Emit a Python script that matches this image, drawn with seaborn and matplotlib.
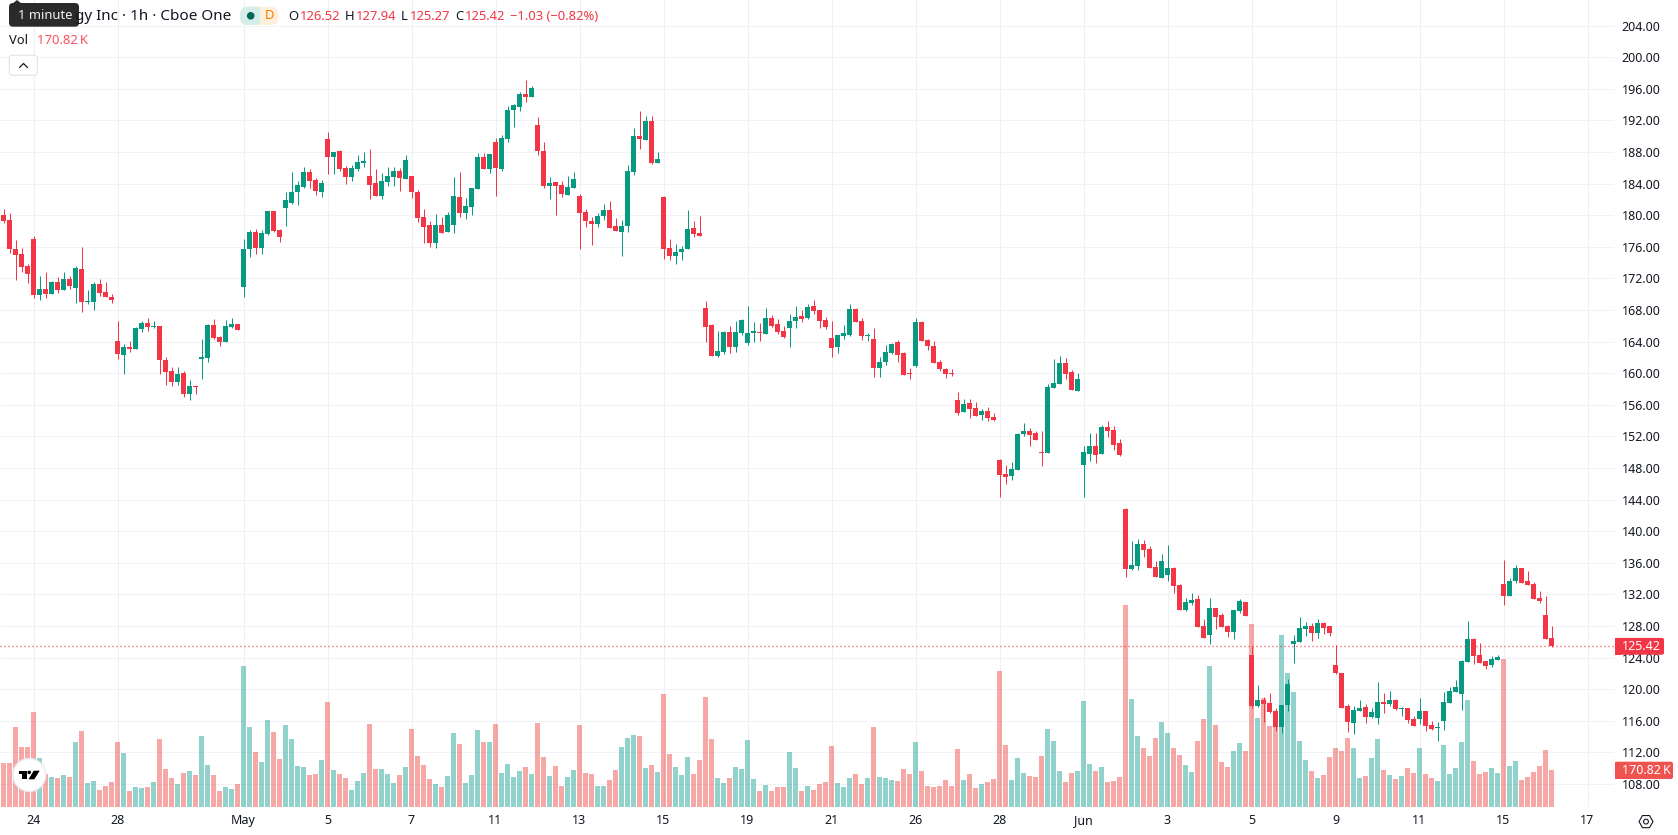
import matplotlib
matplotlib.use("Agg")
import matplotlib.pyplot as plt
from matplotlib.patches import Circle, FancyBboxPatch, Polygon, Rectangle, RegularPolygon
import numpy as np
import pandas as pd
import seaborn as sns

# Hourly OHLC bars
opens = [
    179.97,179.33,175.66,175.03,173.51,176.93,169.84,170.60,169.97,171.49,
    170.47,171.87,170.73,173.13,168.95,168.95,171.23,170.22,169.59,164.02,
    162.24,163.26,163.00,165.54,166.30,165.79,165.92,161.61,160.22,158.83,
    159.97,157.31,158.32,161.74,161.86,166.04,164.52,163.89,165.79,166.17,
    170.85,175.66,177.81,175.79,177.56,180.47,178.07,180.85,181.49,182.88,
    183.51,185.41,184.40,182.88,189.59,187.31,188.07,185.92,184.78,185.79,
    186.55,184.90,184.02,182.37,184.14,184.78,185.54,184.52,184.90,182.88,
    179.71,178.70,176.42,178.70,177.81,178.70,182.24,180.22,180.98,183.26,
    187.31,185.79,189.21,185.79,189.59,193.26,193.64,195.28,194.90,191.36,
    188.07,183.64,184.14,183.76,182.50,183.38,182.37,180.35,179.21,178.83,
    179.84,180.60,178.57,177.81,178.57,185.41,189.97,189.46,191.86,186.55,
    182.24,175.79,174.78,175.28,175.66,178.32,177.69,168.30,166.14,162.22,
    162.73,165.26,163.36,165.13,163.86,165.13,165.26,165.00,167.03,166.27,
    165.38,165.76,166.65,167.28,167.03,168.55,168.04,166.78,164.50,163.36,
    164.75,164.88,168.17,166.65,164.75,164.37,160.70,161.46,162.60,163.99,
    162.60,160.07,160.95,166.52,164.24,163.49,161.46,160.57,160.07,156.65,
    155.13,156.27,155.64,154.75,155.26,154.50,149.05,147.28,147.03,147.79,
    152.35,152.73,152.47,150.07,149.94,158.17,158.68,161.33,160.19,157.79,
    148.42,149.81,150.83,149.81,153.23,152.85,151.21,142.83,135.23,135.61,
    138.40,137.76,135.49,134.09,134.47,135.36,133.21,130.04,130.93,131.43,
    128.02,126.88,130.30,129.41,128.02,127.26,129.92,131.05,124.35,117.89,
    118.65,118.27,117.26,115.23,118.02,125.74,125.99,127.64,128.02,127.13,
    128.40,128.02,123.08,122.07,117.89,115.74,117.26,117.76,116.50,116.37,
    118.40,118.14,118.65,117.51,117.64,116.21,116.21,117.22,115.45,115.07,
    115.96,118.24,119.63,119.38,123.43,126.34,124.31,123.55,123.05,123.68,
    133.30,131.78,133.68,135.32,133.68,133.30,131.53,129.38,126.52,
]
closes = [
    179.21,175.66,174.90,173.38,172.50,169.84,170.60,169.97,171.49,170.47,
    171.87,170.98,173.26,168.95,169.08,171.23,170.09,169.59,169.21,162.37,
    163.26,163.00,165.66,166.30,165.79,165.92,161.61,160.09,158.83,159.84,
    157.31,158.32,158.19,161.99,166.04,164.40,163.89,165.92,166.17,165.41,
    175.66,177.81,175.79,177.69,180.47,177.94,177.18,181.86,182.88,183.76,
    185.41,184.27,183.00,184.02,187.31,187.94,185.79,184.78,185.92,186.68,
    186.80,183.76,182.37,184.27,184.90,185.54,184.65,186.93,182.88,179.59,
    178.45,176.42,178.70,177.69,179.97,182.37,180.22,181.11,183.38,187.31,
    185.79,187.69,185.92,189.71,193.26,193.89,195.28,194.90,196.04,188.07,
    183.64,184.02,183.64,182.62,183.51,184.52,180.22,179.21,178.83,179.84,
    180.60,178.32,177.94,178.57,185.54,189.97,189.59,191.86,186.55,187.05,
    175.66,174.78,175.28,175.66,178.19,177.56,177.31,165.89,162.22,162.85,
    165.26,163.36,165.26,166.78,165.13,165.38,165.13,167.03,166.02,165.26,
    164.62,166.65,167.16,166.90,168.42,167.92,166.65,165.89,163.23,164.88,
    165.13,168.17,166.52,164.75,164.88,160.70,161.46,162.73,163.74,162.35,
    159.81,159.94,166.52,164.12,163.49,161.33,160.57,159.94,159.94,155.00,
    156.14,155.51,154.62,155.26,154.37,154.12,147.16,146.90,147.92,152.35,
    152.73,152.22,151.59,149.94,158.30,158.80,161.33,159.94,157.92,159.31,
    150.07,150.83,149.69,153.23,152.73,150.95,149.69,135.23,135.74,138.40,
    137.64,135.36,134.22,136.24,135.36,133.08,130.04,131.05,131.31,127.89,
    126.50,130.30,129.16,127.89,127.26,130.04,131.18,129.28,117.89,118.65,
    118.14,117.13,115.23,118.02,120.68,126.12,127.76,128.02,127.13,128.40,
    127.76,127.13,122.07,117.64,115.86,117.38,117.64,116.50,117.13,118.40,
    118.14,118.65,117.51,117.64,116.08,115.32,117.22,115.32,114.95,115.20,
    118.36,119.75,120.26,123.55,126.34,124.19,123.30,122.92,123.81,124.06,
    131.78,133.68,135.32,133.43,133.17,131.40,131.15,126.34,125.42,
]
highs = [
    180.73,180.22,176.80,175.79,173.76,177.31,172.24,172.75,171.61,172.12,
    172.75,172.24,173.51,175.92,170.47,171.49,171.87,171.49,169.97,166.55,
    163.64,164.02,165.79,166.55,166.93,166.55,165.92,161.99,160.73,160.73,
    160.22,159.08,158.32,164.27,166.17,166.80,164.65,166.67,166.93,166.17,
    176.93,178.07,178.19,178.07,180.47,180.47,178.19,182.88,185.41,184.27,
    186.04,185.79,184.65,184.40,190.47,187.94,188.19,186.17,186.30,187.56,
    187.94,188.32,185.79,185.28,186.04,186.04,185.92,187.56,184.90,183.13,
    180.73,179.21,180.09,179.71,180.35,184.78,185.41,182.12,183.38,187.81,
    187.81,187.69,189.71,190.09,193.76,194.02,195.54,197.05,196.30,192.37,
    189.21,184.78,184.14,184.27,184.90,185.41,182.62,180.73,179.71,180.22,
    181.36,181.74,179.59,179.33,186.30,190.98,193.13,192.50,192.50,187.94,
    182.37,176.93,176.30,176.04,180.60,179.21,179.84,169.18,166.27,165.38,
    165.38,166.02,166.65,166.90,168.55,166.52,166.40,168.30,167.41,166.90,
    166.02,167.54,168.55,168.04,168.80,169.31,168.04,167.16,166.65,164.88,
    166.14,168.80,168.30,167.03,165.13,165.76,162.09,163.61,163.86,164.24,
    162.73,160.70,167.03,166.65,164.37,164.12,161.71,160.70,160.57,157.66,
    156.78,156.78,156.40,155.51,155.76,155.00,149.18,148.42,148.80,152.47,
    153.74,153.11,152.73,152.73,158.68,161.84,162.22,161.97,160.45,160.07,
    150.83,152.47,152.47,153.49,153.99,153.36,151.71,142.95,138.78,139.03,
    138.90,138.14,136.24,137.13,138.27,135.49,133.33,131.56,132.19,131.94,
    128.90,131.56,130.30,129.66,128.14,130.04,131.43,131.05,125.49,120.55,
    119.03,119.54,117.64,118.02,121.31,126.88,129.16,128.52,128.40,128.90,
    128.52,128.02,125.61,122.07,118.14,117.89,118.65,118.14,117.64,120.93,
    119.54,119.79,118.78,117.76,117.64,116.59,118.87,117.22,115.96,115.83,
    119.63,120.26,121.15,123.68,128.62,126.46,125.83,123.55,124.19,124.31,
    136.34,134.06,135.70,135.32,134.95,133.55,132.41,131.78,127.94,
]
lows = [
    178.95,175.16,171.74,172.75,171.36,169.46,169.21,169.46,169.97,170.09,
    170.47,170.60,168.83,167.69,168.70,167.94,169.71,169.59,168.83,161.74,
    159.84,162.62,163.00,165.16,165.28,165.66,159.84,158.45,158.32,158.45,
    156.93,156.55,157.31,159.21,161.36,164.27,163.38,163.89,165.66,165.41,
    169.59,174.65,175.03,175.03,177.43,177.81,176.55,178.57,181.36,181.23,
    183.38,183.38,182.50,182.24,185.16,185.16,185.54,183.89,184.27,185.54,
    186.04,181.99,182.37,181.99,183.64,183.64,183.00,184.52,182.12,179.08,
    176.42,175.92,175.79,177.69,177.81,177.69,179.71,179.46,179.97,183.26,
    185.79,185.28,182.37,185.54,189.21,191.11,193.13,194.27,194.90,187.56,
    183.38,181.99,179.97,182.24,182.50,183.38,175.66,178.45,176.17,178.45,
    179.33,178.32,177.94,174.78,177.81,185.03,188.32,189.46,186.42,186.55,
    174.40,174.27,173.76,174.27,175.66,177.18,177.31,163.99,162.22,162.09,
    162.47,162.60,162.73,164.88,163.61,163.99,164.12,165.00,165.89,165.00,
    164.50,163.36,165.76,166.52,166.90,167.54,165.76,165.64,162.09,162.60,
    164.37,164.75,166.52,164.24,164.12,159.56,159.56,161.08,162.47,161.46,
    159.81,159.31,160.83,164.12,162.98,161.33,160.32,159.43,159.69,154.75,
    155.13,154.37,154.62,154.12,153.99,153.99,144.37,146.02,146.52,147.79,
    152.09,150.83,151.59,148.30,149.94,158.17,158.68,159.31,157.92,157.79,
    144.37,148.93,148.67,149.81,151.97,150.32,149.56,134.22,135.11,135.11,
    136.75,135.36,134.22,134.09,133.71,132.19,130.04,129.92,130.68,127.89,
    126.50,125.74,127.64,127.89,126.62,126.37,129.66,129.28,117.64,117.76,
    115.86,117.00,114.73,114.47,117.26,123.33,125.99,126.75,126.12,126.50,
    127.00,126.75,121.94,117.64,114.60,114.35,117.26,115.74,116.37,115.61,
    117.00,117.89,117.38,116.62,115.70,115.32,115.58,114.69,114.82,113.43,
    114.82,118.24,119.63,117.35,123.43,123.17,123.30,122.54,122.79,123.68,
    130.64,131.78,133.43,133.43,133.17,131.40,130.89,126.34,125.27,
]
# Traded volume per bar, in thousands of shares
volumes_k = [
    201.6,201.6,367.8,275.5,275.5,437.1,224.7,150.8,137.0,132.4,
    146.2,137.0,298.6,349.4,109.3,118.5,77.0,95.4,113.9,298.6,
    247.8,72.3,90.8,86.2,90.8,113.9,312.4,173.9,132.4,104.7,
    155.4,164.7,146.2,326.3,192.4,146.2,72.3,90.8,81.6,104.7,
    649.5,367.8,252.4,206.2,400.1,344.7,220.1,377.1,312.4,187.8,
    183.1,146.2,150.8,215.5,483.2,169.3,150.8,132.4,77.0,118.5,
    155.4,381.7,173.9,173.9,150.8,109.3,146.2,183.1,358.6,233.9,
    192.4,127.7,104.7,90.8,141.6,340.1,289.3,109.3,146.2,354.0,
    298.6,298.6,381.7,155.4,197.0,137.0,164.7,183.1,150.8,386.3,
    229.3,141.6,187.8,95.4,137.0,169.3,377.1,155.4,150.8,95.4,
    95.4,123.1,169.3,275.5,317.0,330.9,326.3,178.5,192.4,160.1,
    520.2,243.2,183.1,146.2,229.3,150.8,215.5,506.3,312.4,132.4,
    109.3,132.4,183.1,173.9,307.8,127.7,72.3,100.0,72.3,90.8,
    90.8,252.4,178.5,72.3,95.4,77.0,104.7,113.9,280.1,109.3,
    90.8,132.4,150.8,104.7,132.4,367.8,137.0,132.4,123.1,118.5,
    173.9,150.8,298.6,164.7,95.4,90.8,95.4,123.1,95.4,266.2,
    123.1,150.8,86.2,104.7,113.9,127.7,626.4,284.7,123.1,224.7,
    155.4,141.6,137.0,233.9,358.6,303.2,164.7,113.9,155.4,164.7,
    487.9,197.0,164.7,183.1,113.9,118.5,137.0,931.1,497.1,326.3,
    270.9,233.9,317.0,390.9,340.1,270.9,238.5,192.4,160.1,303.2,
    404.8,649.5,377.1,206.2,183.1,257.0,294.0,257.0,843.4,409.4,
    501.7,372.4,372.4,792.6,617.1,529.4,303.2,215.5,164.7,132.4,
    146.2,229.3,270.9,258.6,317.0,270.9,133.9,143.1,226.2,314.0,
    170.8,147.7,129.3,143.1,180.1,157.0,272.4,152.4,133.9,120.0,
    286.3,152.4,180.1,300.1,494.0,212.4,152.4,161.6,180.1,157.0,
    683.3,189.3,212.4,124.7,138.5,161.6,189.3,263.2,170.82,
]

# Date ticks: bar index and label
tick_bars = [5, 19, 40, 54, 68, 82, 96, 110, 124, 138, 152, 166, 180, 194, 208, 222, 236, 250, 264]
tick_labels = ["24", "28", "May", "5", "7", "11", "13", "15", "19", "21", "26", "28", "Jun", "3", "5", "9", "11", "15", "17"]
month_labels = ["May", "Jun"]
price_ticks = list(range(108, 208, 4))
last_price = 125.42

WIDTH, HEIGHT, PLOT_W, PLOT_H = 1678, 835, 1614, 807
UP, DOWN = "#089981", "#F23645"
VOL_UP, VOL_DOWN = "#26A69A", "#EF5350"
INK = "#131722"
GRID_H, GRID_V = "#F1F2F5", "#EEEFF2"
FONT = "Noto Sans"
AXIS_PT, LEGEND_PT, TITLE_PT = 9.0, 9.36, 11.0

sns.set_theme(style="white")
plt.rcParams["font.family"] = [FONT, "DejaVu Sans"]

frame = pd.DataFrame({"bar": np.arange(len(opens)), "open": opens, "high": highs,
                      "low": lows, "close": closes, "volume": volumes_k})
frame["side"] = np.where(frame["close"] < frame["open"], "down", "up")

fig = plt.figure(figsize=(WIDTH / 100, HEIGHT / 100), dpi=100, facecolor="white")
rect = [0, (HEIGHT - PLOT_H) / HEIGHT, PLOT_W / WIDTH, PLOT_H / HEIGHT]

# Bottom layer: price scale, date ticks and grid
ax = fig.add_axes(rect, zorder=1)
x_lim = (-3.5 / 6, (PLOT_W - 3.5) / 6)
y_lim = (105.08, 207.23)
ax.set_xlim(x_lim)
ax.set_ylim(y_lim)
ax.yaxis.tick_right()
ax.set_yticks(price_ticks, [f"{p:.2f}" for p in price_ticks])
ax.set_xticks(tick_bars, tick_labels)
ax.tick_params(axis="both", length=0, labelsize=AXIS_PT, labelcolor=INK)
ax.tick_params(axis="y", pad=5.4)
ax.tick_params(axis="x", pad=5.3)
for tick_text in ax.get_xticklabels():
    if tick_text.get_text() in month_labels:
        tick_text.set_fontweight("bold")
ax.grid(axis="y", color=GRID_H, linewidth=0.72)
ax.grid(axis="x", color=GRID_V, linewidth=0.72)
ax.set_axisbelow(True)
for spine in ax.spines.values():
    spine.set_visible(False)

# Middle layer: volume histogram pinned to the bottom of the pane
ax_vol = fig.add_axes(rect, zorder=2)
sns.barplot(data=frame, x="bar", y="volume", hue="side", palette={"up": VOL_UP, "down": VOL_DOWN},
            native_scale=True, dodge=False, width=5 / 6, alpha=0.5, saturation=1,
            linewidth=0, legend=False, ax=ax_vol)
ax_vol.set_xlim(x_lim)
ax_vol.set_ylim(0, 3725.8)
ax_vol.set_axis_off()

# Top layer: candles
ax_candle = fig.add_axes(rect, zorder=3)
colors = [DOWN if s == "down" else UP for s in frame["side"]]
ax_candle.vlines(frame["bar"], frame["low"], frame["high"], colors=colors, linewidth=0.72)
body_low = frame[["open", "close"]].min(axis=1)
body_high = frame[["open", "close"]].max(axis=1)
ax_candle.bar(frame["bar"], body_high - body_low, bottom=body_low, width=5 / 6, color=colors, linewidth=0)
# One-pixel dots, three pixels apart, on a line of 1 pt
ax_candle.axhline(last_price, color=DOWN, linewidth=1.0, linestyle=(0, (0.72, 2.16)))
ax_candle.set_xlim(x_lim)
ax_candle.set_ylim(y_lim)
ax_candle.set_axis_off()

# Chart furniture in pixel coordinates
ui = fig.add_axes([0, 0, 1, 1], zorder=4)
ui.set_xlim(0, WIDTH)
ui.set_ylim(HEIGHT, 0)
ui.set_axis_off()


def price_y(price):
    return PLOT_H * (y_lim[1] - price) / (y_lim[1] - y_lim[0])


def label(x, y, text, size=LEGEND_PT, color=INK, weight="normal", ha="left"):
    ui.text(x, y, text, fontsize=size, color=color, fontweight=weight, ha=ha, va="center")


def rounded(x0, y0, x1, y1, radius, face, edge="none", lw=0):
    ui.add_patch(FancyBboxPatch((x0 + radius, y0 + radius), x1 - x0 - 2 * radius, y1 - y0 - 2 * radius,
                                boxstyle=f"round,pad={radius},rounding_size={radius}",
                                facecolor=face, edgecolor=edge, linewidth=lw))


# Legend row
label(231, 16, "gy Inc · 1h · Cboe One", size=TITLE_PT, ha="right")
rounded(240, 6.7, 279, 25, 8, "#FFF0DE")
rounded(240, 6.7, 264, 25, 8, "#D6EEE9")
ui.add_patch(Rectangle((260, 6.7), 8, 18.3, facecolor="#FFF0DE", linewidth=0))
ui.add_patch(Circle((250.7, 15.8), 3.8, facecolor="#056656", linewidth=0))
label(269.3, 15.8, "D", size=LEGEND_PT, color="#F57C00", weight="medium", ha="center")
for x_letter, letter, x_val, value in [(288, "O", 299.5, "126.52"), (345, "H", 356, "127.94"),
                                       (401, "L", 409.5, "125.27"), (455, "C", 465, "125.42")]:
    label(x_letter, 16, letter)
    label(x_val, 16, value, color=DOWN)
label(510, 16, "\u22121.03 (\u22120.82%)", color=DOWN)
label(9.3, 40.7, "Vol")
label(37, 40.7, "170.82\u2009K", color="#F7525F")

# Tooltip on the symbol name
ui.add_patch(Polygon([(12, 4), (17, 0), (22, 4)], facecolor="#2A2A2A", linewidth=0))
rounded(9, 3, 79, 26.7, 4, "#2A2A2A")
label(17.5, 15.5, "1 minute", color="#F2F2F2")

# Collapse button
rounded(9.3, 55.3, 37.3, 75.3, 3, "white", edge="#E0E3EB", lw=0.8)
ui.plot([19.5, 23.5, 27.5], [67.5, 63.5, 67.5], color=INK, linewidth=0.9)

# Watermark badge
ui.add_patch(Circle((29.3, 775), 16.5, facecolor="white", edgecolor="#E9E9EC", linewidth=1))
ui.add_patch(Polygon([(19, 770.7), (27, 770.7), (27, 779.3), (22.3, 779.3), (22.3, 774), (19, 774)],
                     facecolor="black", linewidth=0))
ui.add_patch(Circle((29.2, 772.4), 1.8, facecolor="black", linewidth=0))
ui.add_patch(Polygon([(33.7, 770.7), (39.7, 770.7), (34.3, 779.3), (28.5, 779.3)],
                     facecolor="black", linewidth=0))

# Last price and last volume tags on the scale
y_price = price_y(last_price)
rounded(1615, y_price - 8.4, 1664, y_price + 8.4, 2, DOWN)
ui.add_patch(Rectangle((1615, y_price - 8.4), 6, 16.8, facecolor=DOWN, linewidth=0))
label(1622, y_price, "125.42", size=AXIS_PT, color="white")
rounded(1615, 761.7, 1673, 779, 2, VOL_DOWN)
ui.add_patch(Rectangle((1615, 761.7), 6, 17.3, facecolor=VOL_DOWN, linewidth=0))
label(1622, 770.3, "170.82\u2009K", size=AXIS_PT, color="white")

# Settings icon
ui.add_patch(RegularPolygon((1646, 821.6), 6, radius=7, orientation=np.pi / 6,
                            facecolor="none", edgecolor=INK, linewidth=0.8))
ui.add_patch(Circle((1646, 821.6), 2.4, facecolor="none", edgecolor=INK, linewidth=0.8))

fig.savefig("out.png", dpi=100, facecolor="white")
